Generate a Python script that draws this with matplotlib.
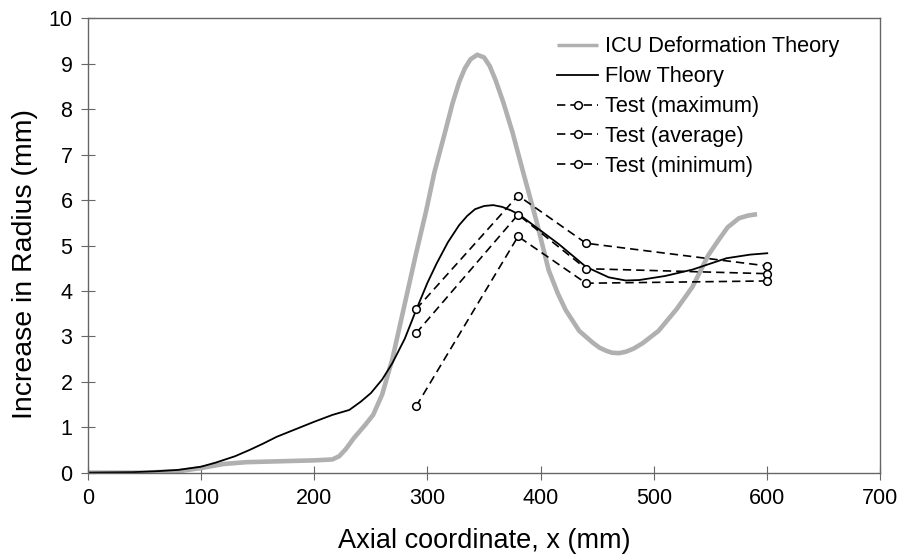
import matplotlib
matplotlib.use('Agg')
from matplotlib import pyplot as plt

plt.rcParams['font.family'] = ['Liberation Sans', 'DejaVu Sans']

# ICU deformation theory curve
icu_x = [0, 50, 80, 100, 120, 140, 170, 200, 216, 222, 228, 235, 245, 252, 260,
         269, 278, 290, 299, 306, 316, 322, 328, 333, 338, 344, 350, 355, 360,
         367, 375, 384, 396, 407, 415, 422, 434, 440, 446, 452, 458, 463, 469,
         475, 482, 490, 504, 520, 534, 548, 557, 565, 575, 583, 591]
icu_y = [0, 0, 0.03, 0.10, 0.19, 0.23, 0.25, 0.27, 0.29, 0.36, 0.52, 0.76, 1.05,
         1.27, 1.72, 2.5, 3.5, 4.83, 5.78, 6.6, 7.54, 8.12, 8.6, 8.9, 9.1, 9.2,
         9.14, 8.95, 8.65, 8.15, 7.5, 6.66, 5.56, 4.46, 3.95, 3.58, 3.12, 2.99,
         2.86, 2.75, 2.68, 2.64, 2.63, 2.66, 2.73, 2.85, 3.12, 3.6, 4.09, 4.79,
         5.12, 5.4, 5.6, 5.66, 5.69]

# flow theory curve
flow_x = [0, 40, 60, 80, 100, 113, 130, 143, 155, 167, 185, 200, 216, 231, 241,
          250, 260, 269, 280, 290, 300, 308, 318, 328, 335, 342, 350, 358, 366,
          374, 381, 395, 416, 440, 460, 475, 487, 510, 534, 564, 585, 600]
flow_y = [0, 0.01, 0.03, 0.06, 0.13, 0.22, 0.36, 0.50, 0.64, 0.79, 0.97, 1.12,
          1.27, 1.38, 1.56, 1.75, 2.05, 2.41, 2.95, 3.58, 4.18, 4.6, 5.07, 5.45,
          5.65, 5.8, 5.87, 5.89, 5.85, 5.77, 5.68, 5.42, 5.03, 4.53, 4.30, 4.23,
          4.24, 4.33, 4.47, 4.72, 4.80, 4.83]

# measured values
test_x = [290, 380, 440, 600]
test_max = [3.6, 6.1, 5.05, 4.55]
test_avg = [3.07, 5.68, 4.49, 4.38]
test_min = [1.46, 5.2, 4.17, 4.22]

fig = plt.figure(figsize=(9.04, 5.58), dpi=100)
ax = fig.add_axes([0.097, 0.153, 0.877, 0.814])

ax.plot(icu_x, icu_y, color='#b0b0b0', lw=3.3, solid_capstyle='butt',
        solid_joinstyle='round', label='ICU Deformation Theory')
ax.plot(flow_x, flow_y, color='black', lw=1.3, label='Flow Theory')
for vals, name in [(test_max, 'Test (maximum)'), (test_avg, 'Test (average)'),
                   (test_min, 'Test (minimum)')]:
    ax.plot(test_x, vals, color='black', lw=1.2, dashes=(5, 3), marker='o',
            ms=5.5, mfc='white', mec='black', mew=1.1, label=name)

ax.set_xlim(0, 700)
ax.set_ylim(0, 10)
ax.set_xticks(range(0, 701, 100))
ax.set_yticks(range(0, 11))
ax.tick_params(direction='inout', length=10, width=0.8, color='#666666',
               labelsize=15.5, pad=6)
for s in ax.spines.values():
    s.set_color('#666666')
    s.set_linewidth(1)

ax.set_xlabel('Axial coordinate, x (mm)', fontsize=19.5, labelpad=14)
ax.set_ylabel('Increase in Radius (mm)', fontsize=20.5, labelpad=12)
ax.yaxis.set_label_coords(-0.063, 0.46)

leg = ax.legend(loc='upper left', bbox_to_anchor=(0.616, 0.935),
                bbox_transform=fig.transFigure, frameon=False, fontsize=15.7,
                handlelength=1.9, handletextpad=0.3, labelspacing=0.41,
                borderpad=0, borderaxespad=0)
leg.get_lines()[0].set_linewidth(2.5)

fig.savefig('out.png', dpi=100)
